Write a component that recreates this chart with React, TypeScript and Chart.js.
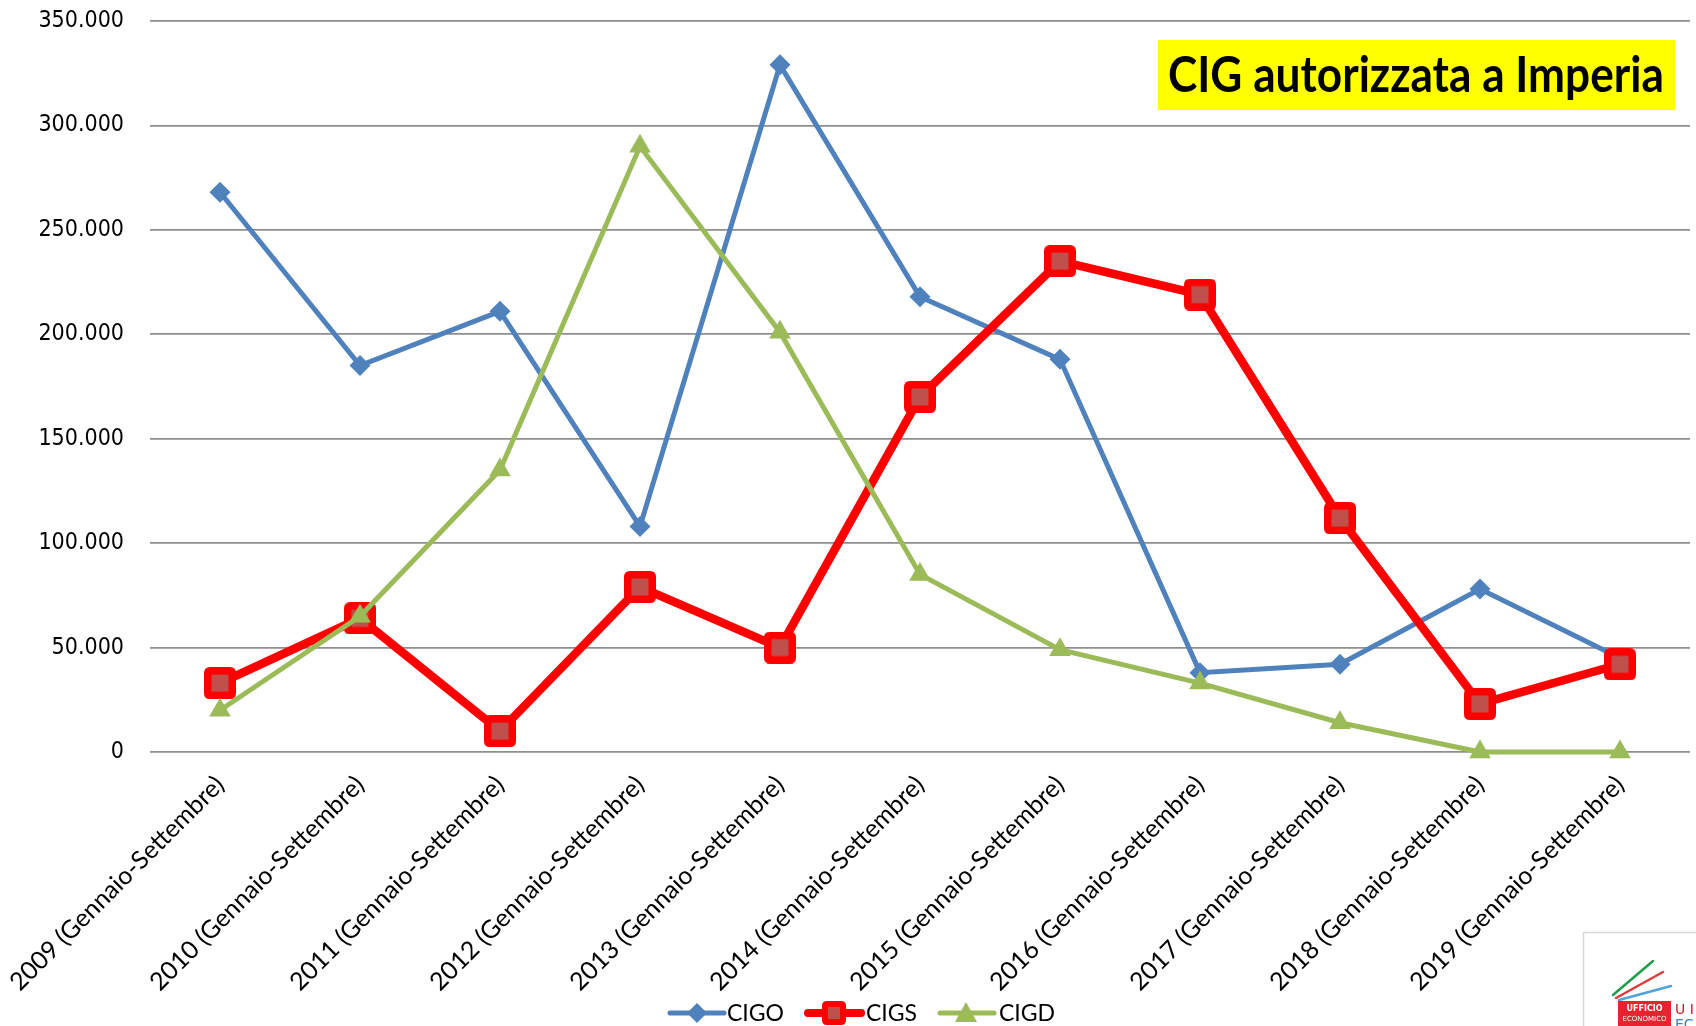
import React, { useEffect, useRef } from "react";
import { Chart, registerables } from "chart.js";

Chart.register(...registerables);

const categories = [
  "2009 (Gennaio-Settembre)",
  "2010 (Gennaio-Settembre)",
  "2011 (Gennaio-Settembre)",
  "2012 (Gennaio-Settembre)",
  "2013 (Gennaio-Settembre)",
  "2014 (Gennaio-Settembre)",
  "2015 (Gennaio-Settembre)",
  "2016 (Gennaio-Settembre)",
  "2017 (Gennaio-Settembre)",
  "2018 (Gennaio-Settembre)",
  "2019 (Gennaio-Settembre)",
];

const cigo = [268000, 185000, 211000, 108000, 329000, 218000, 188000, 38000, 42000, 78000, 45000];
const cigs = [33000, 64000, 10000, 79000, 50000, 170000, 235000, 219000, 112000, 23000, 42000];
const cigd = [20000, 65000, 135000, 290000, 201000, 85000, 49000, 33000, 14000, 0, 0];

const titleText = "CIG autorizzata a Imperia";
const seriesNames = ["CIGO", "CIGS", "CIGD"];

const BLUE = "#4F81BD";
const RED = "#FF0000";
const REDFILL = "#C0504D";
const GREEN = "#9BBB59";

function fmt(v: number): string {
  return String(Math.round(v)).replace(/\B(?=(\d{3})+(?!\d))/g, ".");
}

function hasFont(name: string): boolean {
  const c = document.createElement("canvas").getContext("2d");
  if (!c) return false;
  const sample = "0123456789.ABCabc";
  c.font = "40px monospace";
  const a = c.measureText(sample).width;
  c.font = `40px '${name}', monospace`;
  const b = c.measureText(sample).width;
  return Math.abs(a - b) > 0.5;
}

function roundRect(ctx: CanvasRenderingContext2D, x: number, y: number, w: number, h: number, r: number) {
  ctx.beginPath();
  ctx.moveTo(x + r, y);
  ctx.lineTo(x + w - r, y);
  ctx.quadraticCurveTo(x + w, y, x + w, y + r);
  ctx.lineTo(x + w, y + h - r);
  ctx.quadraticCurveTo(x + w, y + h, x + w - r, y + h);
  ctx.lineTo(x + r, y + h);
  ctx.quadraticCurveTo(x, y + h, x, y + h - r);
  ctx.lineTo(x, y + r);
  ctx.quadraticCurveTo(x, y, x + r, y);
  ctx.closePath();
}

function makeSquare(outer: number, inner: number, radius: number): HTMLCanvasElement {
  const c = document.createElement("canvas");
  c.width = outer;
  c.height = outer;
  const g = c.getContext("2d") as CanvasRenderingContext2D;
  g.fillStyle = RED;
  roundRect(g, 0, 0, outer, outer, radius);
  g.fill();
  g.fillStyle = REDFILL;
  const o = (outer - inner) / 2;
  g.fillRect(o, o, inner, inner);
  return c;
}

let legendSquare: HTMLCanvasElement;

const overlayPlugin = {
  id: "overlay",
  afterDraw(chart: any) {
    const ctx = chart.ctx as CanvasRenderingContext2D;
    ctx.save();
    // Title box
    ctx.fillStyle = "#FFFF00";
    ctx.fillRect(1158, 40, 517, 70);
    let size = 46;
    ctx.font = `bold ${size}px Lato, "Open Sans", sans-serif`;
    const w = ctx.measureText(titleText).width;
    size = size * (496 / w);
    ctx.font = `bold ${size}px Lato, "Open Sans", sans-serif`;
    ctx.fillStyle = "#000";
    ctx.textAlign = "left";
    ctx.textBaseline = "middle";
    ctx.save();
    ctx.translate(1168, 76);
    ctx.scale(1, 1.12);
    ctx.fillText(titleText, 0, 0);
    ctx.restore();

    // Legend
    const ly = 1013;
    ctx.lineCap = "round";
    // CIGO
    ctx.strokeStyle = BLUE;
    ctx.lineWidth = 5;
    ctx.beginPath();
    ctx.moveTo(670, ly);
    ctx.lineTo(724, ly);
    ctx.stroke();
    ctx.fillStyle = BLUE;
    ctx.beginPath();
    ctx.moveTo(697 - 10, ly);
    ctx.lineTo(697, ly - 10);
    ctx.lineTo(697 + 10, ly);
    ctx.lineTo(697, ly + 10);
    ctx.closePath();
    ctx.fill();
    // CIGS
    ctx.strokeStyle = RED;
    ctx.lineWidth = 8;
    ctx.beginPath();
    ctx.moveTo(808, ly);
    ctx.lineTo(861, ly);
    ctx.stroke();
    ctx.drawImage(legendSquare, 834 - 12, ly - 12);
    // CIGD
    ctx.strokeStyle = GREEN;
    ctx.lineWidth = 5;
    ctx.beginPath();
    ctx.moveTo(940, ly);
    ctx.lineTo(994, ly);
    ctx.stroke();
    ctx.fillStyle = GREEN;
    ctx.beginPath();
    ctx.moveTo(966, ly - 11);
    ctx.lineTo(977, ly + 9);
    ctx.lineTo(955, ly + 9);
    ctx.closePath();
    ctx.fill();

    ctx.fillStyle = "#000";
    ctx.font = `23px Lato, "Open Sans", sans-serif`;
    ctx.textBaseline = "middle";
    ctx.fillText(seriesNames[0], 727, ly + 1);
    ctx.fillText(seriesNames[1], 866, ly + 1);
    ctx.fillText(seriesNames[2], 999, ly + 1);

    // Logo (bottom right)
    ctx.fillStyle = "#FFFFFF";
    ctx.fillRect(1583, 932, 120, 100);
    ctx.strokeStyle = "#D8D8D8";
    ctx.lineWidth = 1.5;
    ctx.strokeRect(1583.5, 932.5, 120, 100);
    ctx.lineCap = "round";
    ctx.lineWidth = 2.5;
    ctx.strokeStyle = "#1E9E4A";
    ctx.beginPath();
    ctx.moveTo(1613, 995);
    ctx.lineTo(1653, 961);
    ctx.stroke();
    ctx.strokeStyle = "#E03A3A";
    ctx.beginPath();
    ctx.moveTo(1616, 998);
    ctx.lineTo(1663, 972);
    ctx.stroke();
    ctx.strokeStyle = "#4FA3D8";
    ctx.beginPath();
    ctx.moveTo(1619, 1000);
    ctx.lineTo(1671, 986);
    ctx.stroke();
    ctx.fillStyle = "#E8232E";
    ctx.fillRect(1618, 1001, 53, 25);
    ctx.fillStyle = "#FFFFFF";
    ctx.font = `bold 8px "DejaVu Sans", sans-serif`;
    ctx.textAlign = "center";
    ctx.fillText("UFFICIO", 1644.5, 1009);
    ctx.font = `7px "DejaVu Sans", sans-serif`;
    ctx.fillText("ECONOMICO", 1644.5, 1019);
    ctx.textAlign = "left";
    ctx.fillStyle = "#C0202A";
    ctx.font = `14px "DejaVu Sans", sans-serif`;
    ctx.fillText("U I", 1675, 1010);
    ctx.fillStyle = "#3A7FC0";
    ctx.fillText("EC", 1675, 1025);
    ctx.restore();
  },
};

export default function App() {
  const ref = useRef<HTMLCanvasElement | null>(null);

  useEffect(() => {
    document.body.style.margin = "0";
    const canvas = ref.current;
    if (!canvas) return;
    const square = makeSquare(32, 17, 6);
    legendSquare = makeSquare(24, 12, 5);
    const condensed = hasFont("DejaVu Sans Condensed");
    const yFont = condensed
      ? { family: "'DejaVu Sans Condensed', 'DejaVu Sans', sans-serif", size: 23 }
      : { family: "'DejaVu Sans', sans-serif", size: 21 };
    const chart = new Chart(canvas, {
      type: "line",
      data: {
        labels: categories,
        datasets: [
          {
            label: seriesNames[0],
            data: cigo,
            borderColor: BLUE,
            backgroundColor: BLUE,
            borderWidth: 5,
            pointStyle: "rectRot",
            pointRadius: 10.5,
            pointBorderWidth: 0,
            pointBackgroundColor: BLUE,
            pointBorderColor: BLUE,
            tension: 0,
            order: 2,
            clip: false,
          },
          {
            label: seriesNames[1],
            data: cigs,
            borderColor: RED,
            backgroundColor: REDFILL,
            borderWidth: 8.5,
            pointStyle: square,
            pointRadius: 16,
            pointBorderWidth: 0,
            tension: 0,
            order: 1,
            clip: false,
          },
          {
            label: seriesNames[2],
            data: cigd,
            borderColor: GREEN,
            backgroundColor: GREEN,
            borderWidth: 5,
            pointStyle: "triangle",
            pointRadius: 12.5,
            pointBorderWidth: 0,
            pointBackgroundColor: GREEN,
            pointBorderColor: GREEN,
            tension: 0,
            order: 0,
            clip: false,
          },
        ],
      },
      options: {
        responsive: true,
        maintainAspectRatio: false,
        animation: false,
        devicePixelRatio: 1,
        layout: { autoPadding: false, padding: { top: 21, right: 6, bottom: 0, left: 0 } },
        plugins: {
          legend: { display: false },
          title: { display: false },
          tooltip: { enabled: false },
        },
        scales: {
          x: {
            type: "category",
            offset: true,
            grid: { display: false, drawTicks: false },
            border: { display: false },
            ticks: {
              minRotation: 45,
              maxRotation: 45,
              padding: 18,
              color: "#000",
              font: { family: "Lato, 'Open Sans', sans-serif", size: 25 },
            },
            afterFit(scale: any) {
              scale.height = 274;
              scale.paddingLeft = 0;
              scale.paddingRight = 0;
            },
          },
          y: {
            min: 0,
            max: 350000,
            grid: { color: "#8E8E8E", lineWidth: 1.8, drawTicks: false },
            border: { display: false },
            ticks: {
              stepSize: 50000,
              padding: 26,
              color: "#000",
              font: yFont,
              callback: (v: any) => fmt(Number(v)),
            },
            afterFit(scale: any) {
              scale.width = 150;
              scale.paddingTop = 0;
              scale.paddingBottom = 0;
            },
          },
        },
      },
      plugins: [overlayPlugin],
    });
    return () => chart.destroy();
  }, []);

  return (
    <div style={{ position: "fixed", left: 0, top: 0, width: 1696, height: 1026, background: "#fff" }}>
      <canvas ref={ref} />
    </div>
  );
}
